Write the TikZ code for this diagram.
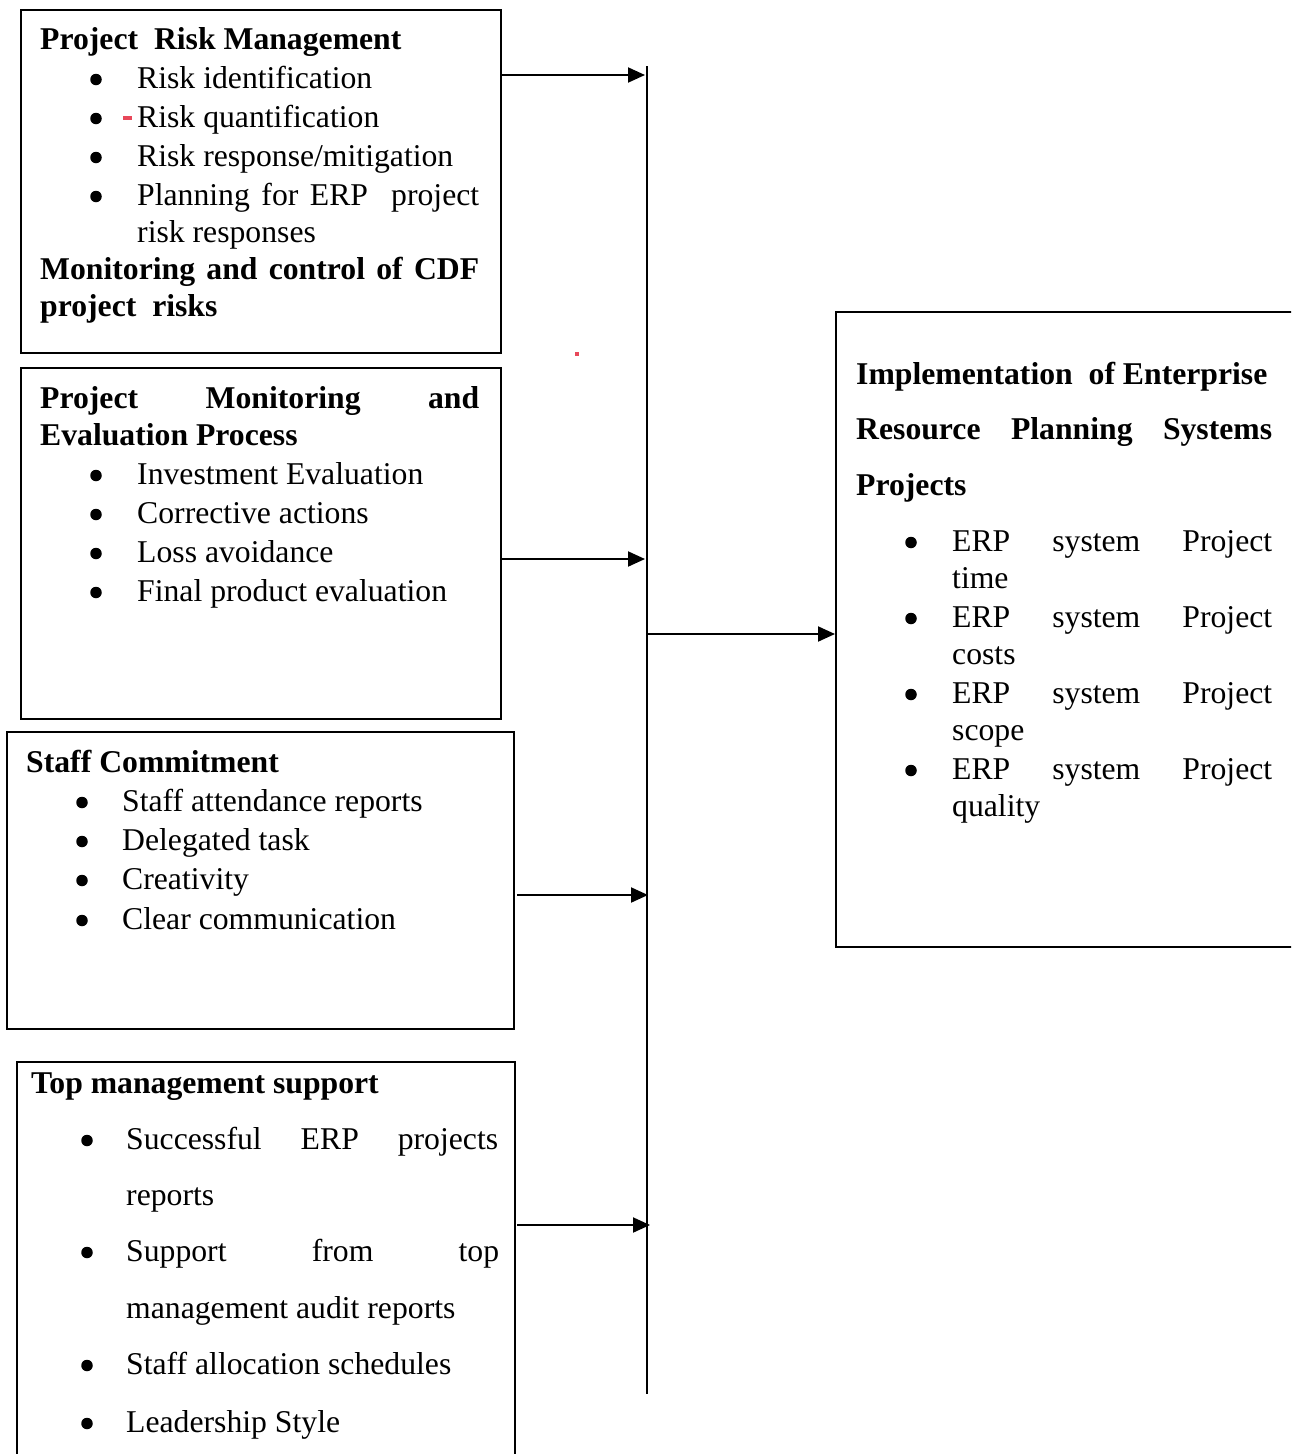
\documentclass[tikz,border=0pt]{standalone}
\usepackage{fontspec}
\setmainfont{Liberation Serif}
\usetikzlibrary{arrows.meta}
\definecolor{markred}{RGB}{232,72,90}
\tikzset{
  box/.style={draw, line width=2pt, inner sep=0pt, anchor=north west},
  txt/.style={anchor=base west, inner sep=0pt, font=\fontsize{31.7}{39}\selectfont},
  btxt/.style={txt, font=\fontsize{31.7}{39}\selectfont\bfseries},
  bul/.style={circle, fill=black, draw=none, inner sep=0pt, minimum size=11.5pt, yshift=8.5pt},
  arr/.style={line width=2pt, -{Triangle[length=17pt,width=15pt]}},
  vline/.style={line width=2pt},
  redspot/.style={fill=markred, draw=none}
}
\begin{document}
\begin{tikzpicture}[x=1pt,y=-1pt]
\useasboundingbox (0,0) rectangle (1291,1454);
\clip (0,0) rectangle (1291,1454);
\fill[white] (0,0) rectangle (1291,1454);

% boxes
\node[box, minimum width=480pt, minimum height=343pt] (b1) at (20,9) {};
\node[box, minimum width=480pt, minimum height=351pt] (b2) at (20,367) {};
\node[box, minimum width=507pt, minimum height=297pt] (b3) at (6,731) {};
\node[box, minimum width=498pt, minimum height=420pt] (b4) at (16,1061) {};
\node[box, minimum width=480pt, minimum height=635pt] (rb) at (835,311) {};

% box 1 text
\node[btxt] (t11) at (40,49) {Project\ \ Risk Management};
\node[bul] (p11) at (96,88) {};
\node[txt] (t12) at (137,88) {Risk identification};
\node[bul] (p12) at (96,127) {};
\node[txt] (t13) at (137,127) {Risk quantification};
\node[bul] (p13) at (96,166) {};
\node[txt] (t14) at (137,166) {Risk response/mitigation};
\node[bul] (p14) at (96,205) {};
\node[txt] (t15) at (137,205) {\makebox[342pt][s]{Planning for ERP\ \ project}};
\node[txt] (t16) at (137,242) {risk responses};
\node[btxt] (t17) at (40,279) {\makebox[439pt][s]{Monitoring and control of CDF}};
\node[btxt] (t18) at (40,316) {project\ \ risks};

% box 2 text
\node[btxt] (t21) at (40,408) {\makebox[439pt][s]{Project Monitoring and}};
\node[btxt] (t22) at (40,445) {Evaluation Process};
\node[bul] (p21) at (96,484) {};
\node[txt] (t23) at (137,484) {Investment Evaluation};
\node[bul] (p22) at (96,523) {};
\node[txt] (t24) at (137,523) {Corrective actions};
\node[bul] (p23) at (96,562) {};
\node[txt] (t25) at (137,562) {Loss avoidance};
\node[bul] (p24) at (96,601) {};
\node[txt] (t26) at (137,601) {Final product evaluation};

% box 3 text
\node[btxt] (t31) at (26,772) {Staff Commitment};
\node[bul] (p31) at (82,811) {};
\node[txt] (t32) at (122,811) {Staff attendance reports};
\node[bul] (p32) at (82,850) {};
\node[txt] (t33) at (122,850) {Delegated task};
\node[bul] (p33) at (82,889) {};
\node[txt] (t34) at (122,889) {Creativity};
\node[bul] (p34) at (82,929) {};
\node[txt] (t35) at (122,929) {Clear communication};

% box 4 text
\node[btxt] (t41) at (31,1093) {Top management support};
\node[bul] (p41) at (87,1149) {};
\node[txt] (t42) at (126,1149) {\makebox[372pt][s]{Successful ERP projects}};
\node[txt] (t43) at (126,1205) {reports};
\node[bul] (p42) at (87,1261) {};
\node[txt] (t44) at (126,1261) {\makebox[373pt][s]{Support from top}};
\node[txt] (t45) at (126,1318) {management audit reports};
\node[bul] (p43) at (87,1374) {};
\node[txt] (t46) at (126,1374) {Staff allocation schedules};
\node[bul] (p44) at (87,1432) {};
\node[txt] (t47) at (126,1432) {Leadership Style};

% right box text
\node[btxt] (r1) at (856,384) {Implementation\ \ of Enterprise};
\node[btxt] (r2) at (856,439) {\makebox[416pt][s]{Resource Planning Systems}};
\node[btxt] (r3) at (856,495) {Projects};
\node[bul] (q1) at (911,551) {};
\node[txt] (r4) at (952,551) {\makebox[320pt][s]{ERP system Project}};
\node[txt] (r5) at (952,588) {time};
\node[bul] (q2) at (911,627) {};
\node[txt] (r6) at (952,627) {\makebox[320pt][s]{ERP system Project}};
\node[txt] (r7) at (952,664) {costs};
\node[bul] (q3) at (911,703) {};
\node[txt] (r8) at (952,703) {\makebox[320pt][s]{ERP system Project}};
\node[txt] (r9) at (952,740) {scope};
\node[bul] (q4) at (911,779) {};
\node[txt] (r10) at (952,779) {\makebox[320pt][s]{ERP system Project}};
\node[txt] (r11) at (952,816) {quality};

% small red marks
\fill[redspot] (123,116) rectangle (132,120);
\fill[redspot] (575,352) rectangle (579,356);

% vertical collector line
\coordinate (vt) at (647,66);
\coordinate (vb) at (647,1394);
\draw[vline] (vt) -- (vb);

% connectors
\coordinate (a1) at (645,75);
\draw[arr] (a1 -| b1.east) -- (a1);
\coordinate (a2) at (645,559);
\draw[arr] (a2 -| b2.east) -- (a2);
\coordinate (a3s) at (517,895);
\coordinate (a3) at (648,895);
\draw[arr] (a3s) -- (a3);
\coordinate (a4s) at (517,1225);
\coordinate (a4) at (650,1225);
\draw[arr] (a4s) -- (a4);
\coordinate (a5) at (648,634);
\draw[arr] (a5) -- (a5 -| rb.west);
\end{tikzpicture}
\end{document}
